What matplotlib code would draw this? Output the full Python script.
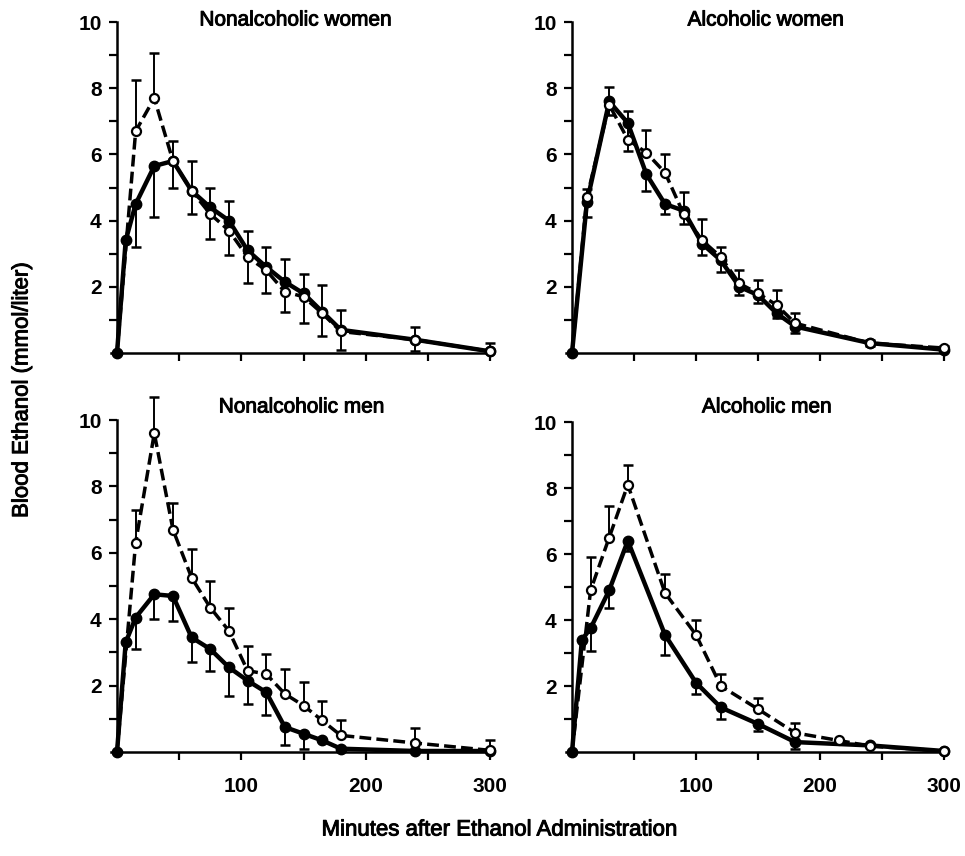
import numpy as np
import matplotlib.pyplot as plt
import matplotlib.patheffects as pe

plt.rcParams['font.family'] = ['Liberation Sans', 'DejaVu Sans']

nan = np.nan

# Nonalcoholic women
nw_t_open = [0, 15, 30, 45, 60, 75, 90, 105, 120, 135, 150, 165, 180, 240, 300]
nw_open = [0, 6.7, 7.7, 5.8, 4.9, 4.2, 3.7, 2.9, 2.5, 1.85, 1.7, 1.2, 0.65, 0.4, 0.05]
nw_open_hi = [nan, 8.25, 9.05, 6.4, 5.8, 5.0, 4.6, 3.7, 3.2, 2.85, 2.4, 2.05, 1.3, 0.8, 0.3]
nw_t_fill = [0, 7, 15, 30, 45, 60, 75, 90, 105, 120, 135, 150, 165, 180, 240, 300]
nw_fill = [0, 3.4, 4.5, 5.65, 5.8, 4.9, 4.4, 4.0, 3.1, 2.6, 2.15, 1.8, 1.25, 0.7, 0.4, 0.05]
nw_fill_lo = [nan, nan, 3.2, 4.1, 5.0, 4.2, 3.45, 2.95, 2.1, 1.8, 1.25, 0.9, 0.5, 0.1, 0.05, nan]

# Alcoholic women
aw_t = [0, 12, 30, 45, 60, 75, 90, 105, 120, 135, 150, 165, 180, 240, 300]
aw_open = [0, 4.7, 7.5, 6.45, 6.05, 5.45, 4.2, 3.4, 2.9, 2.1, 1.8, 1.45, 0.9, 0.3, 0.15]
aw_open_hi = [nan, 4.95, 8.05, 7.3, 6.75, 6.0, 4.85, 4.05, 3.2, 2.5, 2.2, 1.9, 1.2, 0.4, 0.2]
aw_fill = [0, 4.55, 7.6, 6.95, 5.4, 4.5, 4.3, 3.3, 2.8, 2.0, 1.75, 1.2, 0.8, 0.3, 0.1]
aw_fill_lo = [nan, 4.1, 7.2, 6.1, 4.9, 4.2, 3.9, 2.95, 2.45, 1.75, 1.5, 1.05, 0.6, 0.2, nan]

# Nonalcoholic men
nm_t_open = [0, 15, 30, 45, 60, 75, 90, 105, 120, 135, 150, 165, 180, 240, 300]
nm_open = [0, 6.3, 9.6, 6.7, 5.25, 4.35, 3.65, 2.45, 2.35, 1.75, 1.4, 0.95, 0.5, 0.27, 0.05]
nm_open_hi = [nan, 7.3, 10.7, 7.5, 6.1, 5.15, 4.35, 3.2, 2.95, 2.5, 2.1, 1.55, 0.95, 0.72, 0.36]
nm_t_fill = [0, 7, 15, 30, 45, 60, 75, 90, 105, 120, 135, 150, 165, 180, 240, 300]
nm_fill = [0, 3.3, 4.05, 4.75, 4.7, 3.45, 3.1, 2.55, 2.15, 1.8, 0.75, 0.55, 0.35, 0.1, 0.03, 0.03]
nm_fill_lo = [nan, nan, 3.1, 4.0, 3.95, 2.7, 2.45, 1.7, 1.45, 1.1, 0.2, 0.1, nan, nan, nan, nan]

# Alcoholic men
am_t_open = [0, 15, 30, 45, 75, 100, 120, 150, 180, 215, 240, 300]
am_open = [0, 4.9, 6.5, 8.1, 4.82, 3.55, 2.0, 1.3, 0.58, 0.35, 0.18, 0.03]
am_open_hi = [nan, 5.9, 7.45, 8.7, 5.4, 4.0, 2.35, 1.65, 0.88, nan, nan, nan]
am_t_fill = [0, 8, 15, 30, 45, 75, 100, 120, 150, 180, 240, 300]
am_fill = [0, 3.4, 3.75, 4.9, 6.4, 3.55, 2.1, 1.35, 0.85, 0.3, 0.2, 0.03]
am_fill_lo = [nan, nan, 3.05, 4.35, 6.1, 2.95, 1.75, 1.0, 0.65, 0.1, nan, nan]

titles = ["Nonalcoholic women", "Alcoholic women", "Nonalcoholic men", "Alcoholic men"]
x_ticks = [50, 100, 150, 200, 250, 300]
x_labels = ["", "100", "", "200", "", "300"]
y_major = [2, 4, 6, 8, 10]
y_minor = [1, 3, 5, 7, 9]

panels = [
    (nw_t_open, nw_open, nw_open_hi, nw_t_fill, nw_fill, nw_fill_lo),
    (aw_t, aw_open, aw_open_hi, aw_t, aw_fill, aw_fill_lo),
    (nm_t_open, nm_open, nm_open_hi, nm_t_fill, nm_fill, nm_fill_lo),
    (am_t_open, am_open, am_open_hi, am_t_fill, am_fill, am_fill_lo),
]

W, H = 965, 856
fig = plt.figure(figsize=(W / 100, H / 100), dpi=100)

# axes boxes in pixels: (x at t=0, x at t=300, y at 0, y at 10)
boxes = [(117, 490, 353, 22), (572, 944, 353, 22), (117, 490, 752, 420), (572, 944, 752, 422)]
title_pos = [(296, 20), (766, 20), (302, 407), (767, 407)]

heavy = [pe.withStroke(linewidth=0.7, foreground='black')]


def errbar(ax, t, v, lim, up):
    t = np.array(t, float)
    v = np.array(v, float)
    lim = np.array(lim, float)
    ok = ~np.isnan(lim)
    d = np.abs(lim[ok] - v[ok])
    z = np.zeros_like(d)
    yerr = [z, d] if up else [d, z]
    eb = ax.errorbar(t[ok], v[ok], yerr=yerr, fmt='none', ecolor='black',
                     elinewidth=1.4, capsize=3.5, capthick=1.8, zorder=2)
    for art in eb.lines[1] + eb.lines[2]:
        art.set_clip_on(False)


for i, (to, vo, ho, tf, vf, lf) in enumerate(panels):
    x0, x1, y0, y10 = boxes[i]
    pxmin = (x1 - x0) / 300
    left = x0 - 5 * pxmin
    ax = fig.add_axes([left / W, 1 - y0 / H, (x1 - left) / W, (y0 - y10) / H])
    ax.set_xlim(-5, 300)
    ax.set_ylim(0, 10)

    errbar(ax, to, vo, ho, True)
    errbar(ax, tf, vf, lf, False)
    ax.plot(tf, vf, color='black', lw=3.2, marker='o', ms=7.5, mfc='black',
            mec='black', clip_on=False, zorder=3)
    ax.plot(to, vo, color='black', lw=2.5, ls=(0, (3.4, 1.5)), marker='o', ms=6.5,
            mfc='white', mec='black', mew=1.6, markevery=list(range(1, len(to))),
            clip_on=False, zorder=4)

    for s in ['top', 'right']:
        ax.spines[s].set_visible(False)
    ax.spines['left'].set_position(('data', 0))
    ax.spines['left'].set_linewidth(1.8)
    ax.spines['bottom'].set_linewidth(1.8)

    ax.set_xticks(x_ticks)
    if i >= 2:
        ax.set_xticklabels(x_labels)
    else:
        ax.set_xticklabels([])
    ax.set_yticks(y_major)
    ax.set_yticks(y_minor, minor=True)
    ax.tick_params(axis='x', length=6, width=1.6, pad=12, labelsize=15)
    ax.tick_params(axis='y', which='both', length=6, width=1.6, pad=5, labelsize=15)
    for lab in ax.get_xticklabels() + ax.get_yticklabels():
        lab.set_fontweight('bold')

    tx, ty = title_pos[i]
    fig.text(tx / W, 1 - ty / H, titles[i], ha='center', va='center', fontsize=15,
             path_effects=heavy)

fig.text(22 / W, 1 - 390 / H, "Blood Ethanol (mmol/liter)", rotation=90,
         ha='center', va='center', fontsize=16, path_effects=heavy)
fig.text(500 / W, 1 - 830 / H, "Minutes after Ethanol Administration",
         ha='center', va='center', fontsize=16, path_effects=heavy)

fig.savefig('out.png', dpi=100, facecolor='white')
